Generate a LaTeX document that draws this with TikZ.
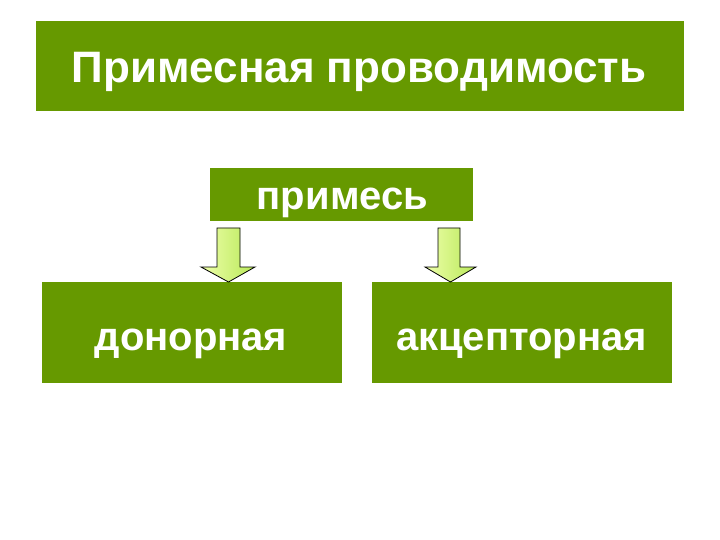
\documentclass[tikz,border=0pt]{standalone}
\usepackage{fontspec}
\setmainfont{Liberation Sans}
\begin{document}
\begin{tikzpicture}[x=1pt,y=-1pt]
\definecolor{boxgreen}{HTML}{669900}
\definecolor{arrlight}{HTML}{EEFFAA}
\definecolor{arrdark}{HTML}{B8E858}
\tikzset{
  gbox/.style={fill=boxgreen, draw=none, inner sep=0pt},
  gtext/.style={anchor=base, inner sep=0pt, text=white, font=\bfseries\fontsize{40}{46}\selectfont},
  blockarrow/.style={draw=black, line width=0.8pt, left color=arrlight, right color=arrdark, line join=miter}
}
\useasboundingbox (0,0) rectangle (720,540);
\fill[white] (0,0) rectangle (720,540);
\node[gbox, minimum width=648pt, minimum height=90pt] (title) at (360,66) {};
\node[gbox, minimum width=263pt, minimum height=53pt] (prim) at (341.5,194.5) {};
\node[gbox, minimum width=300pt, minimum height=101pt] (don) at (192,332.5) {};
\node[gbox, minimum width=300pt, minimum height=101pt] (acc) at (522,332.5) {};
\node[gtext, font=\bfseries\fontsize{44}{50}\selectfont] (titlet) at (359,83) {Примесная проводимость};
\node[gtext] (primt) at (342.5,210) {примесь};
\node[gtext] (dont) at (191,350) {донорная};
\node[gtext] (acct) at (521.5,350) {акцепторная};
% left block arrow
\draw[blockarrow] (217,228) -- (240,228) -- (240,267) -- (255,267) -- (228.5,282) -- (201,267) -- (217,267) -- cycle;
% right block arrow
\draw[blockarrow] (438,228) -- (460,228) -- (460,267) -- (476,267) -- (450.5,282) -- (425,267) -- (438,267) -- cycle;
\end{tikzpicture}
\end{document}
